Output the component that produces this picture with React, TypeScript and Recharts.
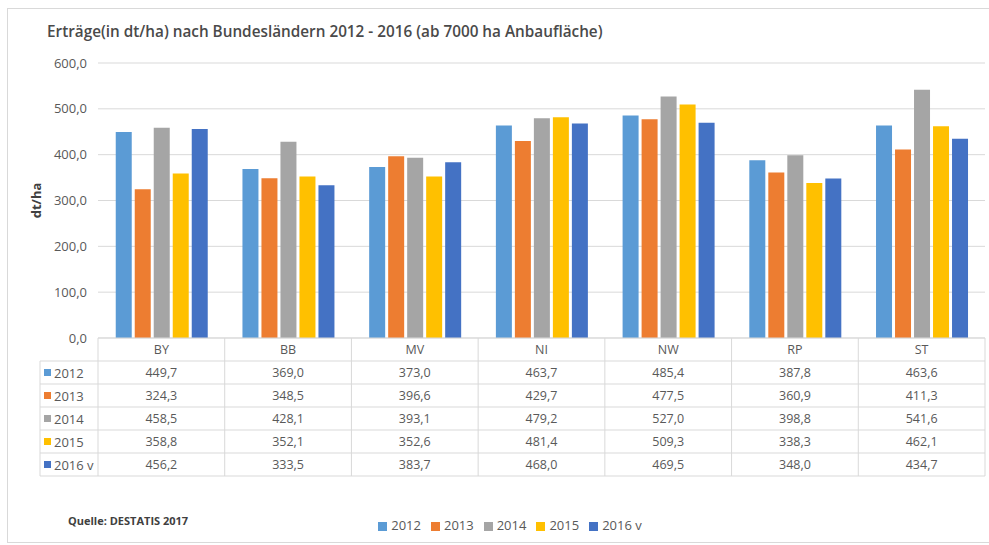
import { BarChart, Bar, XAxis, YAxis, CartesianGrid, Legend } from "recharts";

const categories = ["BY", "BB", "MV", "NI", "NW", "RP", "ST"];
const seriesNames = ["2012", "2013", "2014", "2015", "2016 v"];
const v2012 = [449.7, 369.0, 373.0, 463.7, 485.4, 387.8, 463.6];
const v2013 = [324.3, 348.5, 396.6, 429.7, 477.5, 360.9, 411.3];
const v2014 = [458.5, 428.1, 393.1, 479.2, 527.0, 398.8, 541.6];
const v2015 = [358.8, 352.1, 352.6, 481.4, 509.3, 338.3, 462.1];
const v2016 = [456.2, 333.5, 383.7, 468.0, 469.5, 348.0, 434.7];
const yTicks = [0, 100, 200, 300, 400, 500, 600];

const COLORS = ["#5b9bd5", "#ed7d31", "#a5a5a5", "#ffc000", "#4472c4"];
const seriesValues = [v2012, v2013, v2014, v2015, v2016];
const keys = ["s0", "s1", "s2", "s3", "s4"];

const data = categories.map((cat, i) => {
  const row: Record<string, string | number> = { name: cat };
  keys.forEach((k, s) => (row[k] = seriesValues[s][i]));
  return row;
});

const W = 989;
const H = 545;
const PLOT_LEFT = 98;
const PLOT_RIGHT = 985;
const HALF_BAND = (PLOT_RIGHT - PLOT_LEFT) / categories.length / 2;
const ROW_H = 23;
const LINE = "#d9d9d9";
const TEXT = "#595959";

const fmt = (v: number) => v.toFixed(1).replace(".", ",");

// x-axis tick doubles as one column of the data table
function TableTick(props: any) {
  const { x, y, payload, index } = props;
  const i = categories.indexOf(payload.value);
  const bottom = y + ROW_H * 6;
  return (
    <g>
      {index === 0 && (
        <g>
          <line x1={PLOT_LEFT} y1={y} x2={PLOT_LEFT} y2={bottom} stroke={LINE} />
          <line x1={40} y1={y + ROW_H} x2={40} y2={bottom} stroke={LINE} />
          {[1, 2, 3, 4, 5, 6].map((r) => (
            <line key={r} x1={40} y1={y + ROW_H * r} x2={PLOT_RIGHT} y2={y + ROW_H * r} stroke={LINE} />
          ))}
          {seriesNames.map((s, r) => (
            <g key={s}>
              <rect x={44} y={y + ROW_H * (r + 1) + 8} width={7} height={7} fill={COLORS[r]} />
              <text x={54} y={y + ROW_H * (r + 1) + 16.5} fontSize={13} fill={TEXT}>
                {s}
              </text>
            </g>
          ))}
        </g>
      )}
      <line x1={x + HALF_BAND} y1={y} x2={x + HALF_BAND} y2={bottom} stroke={LINE} />
      <text x={x} y={y + 16} textAnchor="middle" fontSize={12.5} fill={TEXT}>
        {payload.value}
      </text>
      {seriesValues.map((vals, r) => (
        <text key={r} x={x} y={y + ROW_H * (r + 1) + 16} textAnchor="middle" fontSize={12.5} fill={TEXT}>
          {fmt(vals[i])}
        </text>
      ))}
    </g>
  );
}

export default function App() {
  return (
    <div
      style={{
        position: "absolute",
        left: 0,
        top: 0,
        width: W,
        height: H,
        background: "#fff",
        fontFamily: "'Open Sans', sans-serif",
        overflow: "hidden",
      }}
    >
      <div
        style={{
          position: "absolute",
          left: 7,
          top: 8,
          width: 1000,
          height: 533,
          border: "1px solid #d9d9d9",
        }}
      />
      <div
        style={{
          position: "absolute",
          left: 47,
          top: 21,
          fontSize: 15.3,
          fontWeight: 600,
          color: "#4a4a4a",
          whiteSpace: "nowrap",
        }}
      >
        Erträge(in dt/ha) nach Bundesländern 2012 - 2016 (ab 7000 ha Anbaufläche)
      </div>
      <div
        style={{
          position: "absolute",
          left: 68,
          top: 513,
          fontSize: 11,
          fontWeight: 700,
          color: "#404040",
          whiteSpace: "nowrap",
        }}
      >
        Quelle: DESTATIS 2017
      </div>
      <BarChart
        width={W}
        height={H}
        data={data}
        margin={{ top: 63, right: W - PLOT_RIGHT, left: 0, bottom: 0 }}
        barCategoryGap="14%"
        barGap={3}
        style={{ position: "absolute", left: 0, top: 0 }}
      >
        <CartesianGrid vertical={false} stroke={LINE} />
        <XAxis
          dataKey="name"
          height={H - 338}
          axisLine={{ stroke: LINE }}
          tickLine={false}
          tickSize={0}
          tickMargin={0}
          interval={0}
          tick={<TableTick />}
        />
        <YAxis
          width={PLOT_LEFT}
          domain={[0, 600]}
          ticks={yTicks}
          axisLine={false}
          tickLine={false}
          tickSize={0}
          tickMargin={11}
          tickFormatter={fmt}
          tick={{ fontSize: 13, fill: TEXT }}
          label={{
            value: "dt/ha",
            angle: -90,
            position: "insideLeft",
            offset: 36,
            style: { textAnchor: "middle", fontSize: 13, fontWeight: 700, fill: "#404040" },
          }}
        />
        <Legend
          verticalAlign="middle"
          align="center"
          iconType="square"
          iconSize={9}
          wrapperStyle={{ top: 516, left: 370, width: 290, fontSize: 13 }}
          formatter={(value) => <span style={{ color: TEXT }}>{value}</span>}
        />
        {keys.map((k, s) => (
          <Bar key={k} dataKey={k} name={seriesNames[s]} fill={COLORS[s]} isAnimationActive={false} />
        ))}
      </BarChart>
    </div>
  );
}
